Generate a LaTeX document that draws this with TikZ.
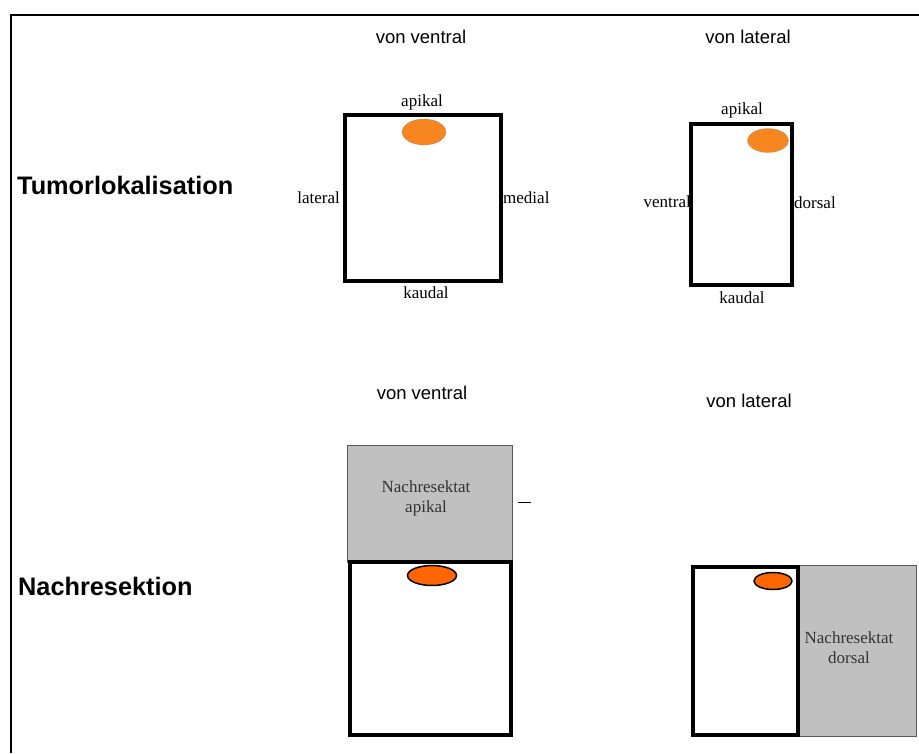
\documentclass[tikz,border=0pt]{standalone}
\usepackage{fontspec}
\setmainfont{Liberation Serif}
\newfontfamily\arialf{Liberation Sans}
\usetikzlibrary{shapes.geometric}
\definecolor{tumorA}{RGB}{247,134,32}
\definecolor{tumorB}{RGB}{255,102,0}
\definecolor{resgray}{RGB}{192,192,192}
\begin{document}
\begin{tikzpicture}[x=1pt,y=-1pt,
  organ/.style={draw=black,line width=3.6pt,fill=white,inner sep=0pt,outer sep=0pt},
  resect/.style={draw=black!65,line width=1pt,fill=resgray,inner sep=0pt,outer sep=0pt},
  tumA/.style={ellipse,fill=tumorA,draw=black!45,densely dotted,line width=0.6pt,inner sep=0pt},
  tumB/.style={ellipse,fill=tumorB,draw=black,line width=1.5pt,inner sep=0pt},
  lab/.style={font=\fontsize{17}{18}\selectfont,inner sep=0pt},
  view/.style={font=\arialf\fontsize{18.5}{20}\selectfont,inner sep=0pt},
  head/.style={font=\arialf\bfseries\fontsize{25.3}{27}\selectfont,inner sep=0pt,anchor=west},
  restext/.style={font=\fontsize{17}{20}\selectfont,align=center,inner sep=0pt,text=black!80}]
\useasboundingbox (0,0) rectangle (919,753);
\fill[white] (0,0) rectangle (919,753);
% frame
\coordinate (fbl) at (11,753);
\coordinate (ftl) at (11,15);
\coordinate (ftr) at (919,15);
\draw[line width=2.6pt] (fbl) -- (ftl) -- (ftr);
% headings
\node[head] (h1) at (17,185) {Tumorlokalisation};
\node[head] (h2) at (18,586) {Nachresektion};
\node[view] (v1) at (421,37) {von ventral};
\node[view] (v2) at (748,37) {von lateral};
\node[view] (v3) at (422,393) {von ventral};
\node[view] (v4) at (749,401) {von lateral};
% top left
\node[organ,minimum width=156,minimum height=166] (tl) at (423,198) {};
\node[tumA,minimum width=44,minimum height=26] (tlt) at (424,132) {};
\node[lab] (tla) at (422,102) {apikal};
\node[lab,anchor=east] (tll) at (340,198) {lateral};
\node[lab,anchor=west] (tlm) at (503,198) {medial};
\node[lab] (tlk) at (426,293) {kaudal};
% top right
\node[organ,minimum width=101,minimum height=161] (tr) at (741.5,204.5) {};
\node[tumA,minimum width=41,minimum height=24] (trt) at (768,140.5) {};
\node[lab] (tra) at (742,110) {apikal};
\node[lab,anchor=east] (trv) at (691,202) {ventral};
\node[lab,anchor=west] (trd) at (794,203) {dorsal};
\node[lab] (trk) at (742,298) {kaudal};
% bottom left
\node[resect,minimum width=165,minimum height=117] (blr) at (429.5,503.5) {};
\node[restext] (blrt) at (426,498) {Nachresektat\\apikal};
\coordinate (d1) at (518,502);
\coordinate (d2) at (531,502);
\draw[line width=1pt] (d1) -- (d2);
\node[organ,minimum width=161,minimum height=173] (bl) at (430.5,648.5) {};
\node[tumB,minimum width=49,minimum height=20] (blt) at (432,575.5) {};
% bottom right
\node[resect,minimum width=121,minimum height=171] (brr) at (855.5,650.5) {};
\node[restext] (brrt) at (849,648) {Nachresektat\\dorsal};
\node[organ,minimum width=105,minimum height=168] (br) at (745.5,651) {};
\node[tumB,minimum width=38,minimum height=17] (brt) at (773,581) {};
\end{tikzpicture}
\end{document}
